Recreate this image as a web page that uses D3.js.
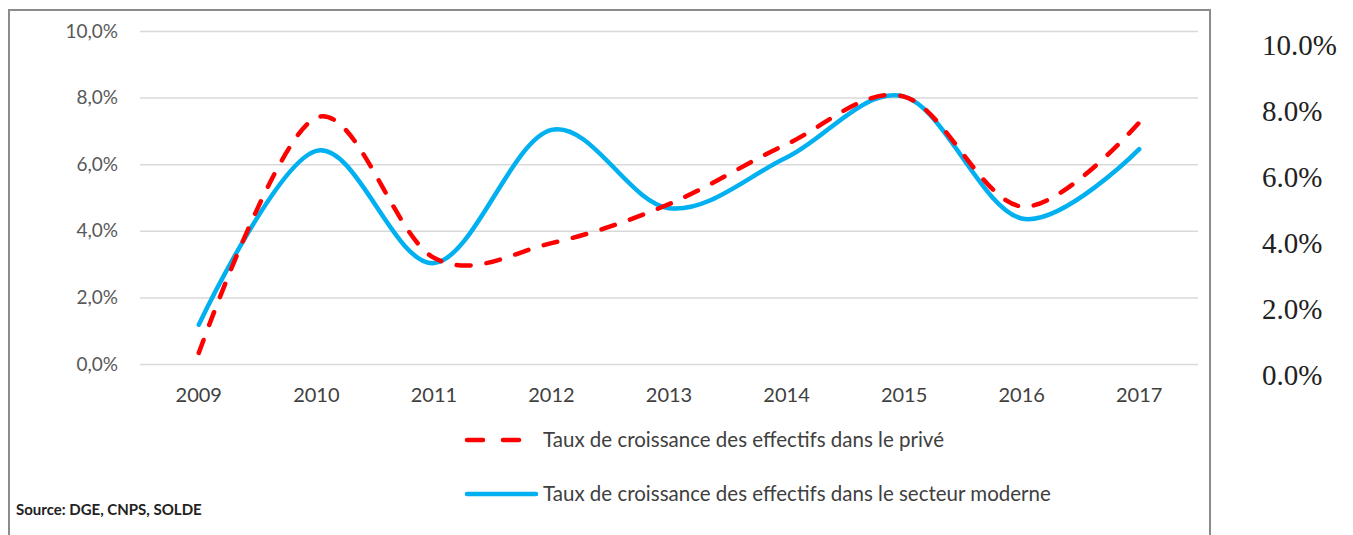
<!DOCTYPE html>
<html lang="fr">
  <head>
    <meta charset="UTF-8" />
    <title>Taux de croissance des effectifs</title>
    <script src="https://cdn.jsdelivr.net/npm/d3@7"></script>
    <style>
      html, body { margin: 0; padding: 0; background: #fff; }
      svg { display: block; }
    </style>
  </head>
  <body>
    <svg id="chart"></svg>
  </body>
  <script>
    // data (percent)
    const years = ["2009", "2010", "2011", "2012", "2013", "2014", "2015", "2016", "2017"];
    const prive = [0.33, 7.4, 3.19, 3.63, 4.8, 6.6, 8.03, 4.73, 7.25];
    const moderne = [1.18, 6.4, 3.03, 7.03, 4.68, 6.2, 8.03, 4.37, 6.45];
    const yTicks = [0, 2, 4, 6, 8, 10];
    const legendLabels = [
      "Taux de croissance des effectifs dans le privé",
      "Taux de croissance des effectifs dans le secteur moderne",
    ];
    const source = "Source: DGE, CNPS, SOLDE";

    const W = 1353, H = 535;
    const svg = d3.select("#chart").attr("width", W).attr("height", H);
    const sans = "Lato, 'Open Sans', sans-serif";

    // outer frame (bottom edge is cut off)
    svg.append("rect")
      .attr("x", 9).attr("y", 10)
      .attr("width", 1201).attr("height", 560)
      .attr("fill", "none")
      .attr("stroke", "#8c8c8c")
      .attr("stroke-width", 2);

    const x = d3.scaleBand().domain(years).range([140, 1198]);
    const cx = d => x(d) + x.bandwidth() / 2;
    const y = d3.scaleLinear().domain([0, 10]).range([364, 31]);
    const yR = d3.scaleLinear().domain([0, 10]).range([375, 45]);

    // gridlines
    const grid = svg.append("g")
      .attr("transform", "translate(140,0)")
      .call(d3.axisLeft(y).tickValues(yTicks).tickSize(-(1198 - 140)).tickFormat(""));
    grid.select(".domain").remove();
    grid.selectAll("line").attr("stroke", "#d9d9d9").attr("stroke-width", 1.5);

    // left labels
    const yl = svg.append("g")
      .attr("transform", "translate(140,0)")
      .call(d3.axisLeft(y).tickValues(yTicks).tickSize(0).tickPadding(22)
        .tickFormat(d => d.toFixed(1).replace(".", ",") + "%"));
    yl.select(".domain").remove();
    yl.selectAll("text").attr("font-family", sans).attr("font-size", 19).attr("fill", "#595959");

    // right labels (serif, outside the frame)
    const yr = svg.append("g")
      .attr("transform", "translate(1262,0)")
      .call(d3.axisRight(yR).tickValues(yTicks).tickSize(0).tickPadding(0)
        .tickFormat(d => d.toFixed(1) + "%"));
    yr.select(".domain").remove();
    yr.selectAll("text")
      .attr("font-family", "'Liberation Serif', 'Times New Roman', serif")
      .attr("font-size", 29).attr("fill", "#222");

    // x labels
    const xa = svg.append("g")
      .attr("transform", "translate(0,364)")
      .call(d3.axisBottom(x).tickSize(0).tickPadding(24));
    xa.select(".domain").remove();
    xa.selectAll("text").attr("font-family", sans).attr("font-size", 20).attr("fill", "#404040");

    const line = d3.line()
      .x((d, i) => cx(years[i]))
      .y(d => y(d))
      .curve(d3.curveCatmullRom.alpha(0));

    svg.append("path")
      .attr("d", line(moderne))
      .attr("fill", "none")
      .attr("stroke", "#00B0F0")
      .attr("stroke-width", 4.5)
      .attr("stroke-linecap", "round");

    svg.append("path")
      .attr("d", line(prive))
      .attr("fill", "none")
      .attr("stroke", "#FF0000")
      .attr("stroke-width", 4.5)
      .attr("stroke-linecap", "round")
      .attr("stroke-dasharray", "14,16");

    // legend
    const leg = svg.append("g");
    leg.append("line")
      .attr("x1", 467).attr("x2", 520).attr("y1", 440).attr("y2", 440)
      .attr("stroke", "#FF0000").attr("stroke-width", 4.5)
      .attr("stroke-linecap", "round").attr("stroke-dasharray", "16,20");
    leg.append("line")
      .attr("x1", 467).attr("x2", 536).attr("y1", 494).attr("y2", 494)
      .attr("stroke", "#00B0F0").attr("stroke-width", 4.5)
      .attr("stroke-linecap", "round");
    leg.selectAll("text")
      .data(legendLabels)
      .join("text")
      .attr("x", 543)
      .attr("y", (d, i) => [440, 494][i])
      .attr("dy", "0.35em")
      .attr("font-family", sans)
      .attr("font-size", 20.5)
      .attr("fill", "#404040")
      .text(d => d);

    svg.append("text")
      .attr("x", 16).attr("y", 515)
      .attr("font-family", sans)
      .attr("font-weight", "bold")
      .attr("font-size", 15)
      .attr("fill", "#222")
      .text(source);
  </script>
</html>
